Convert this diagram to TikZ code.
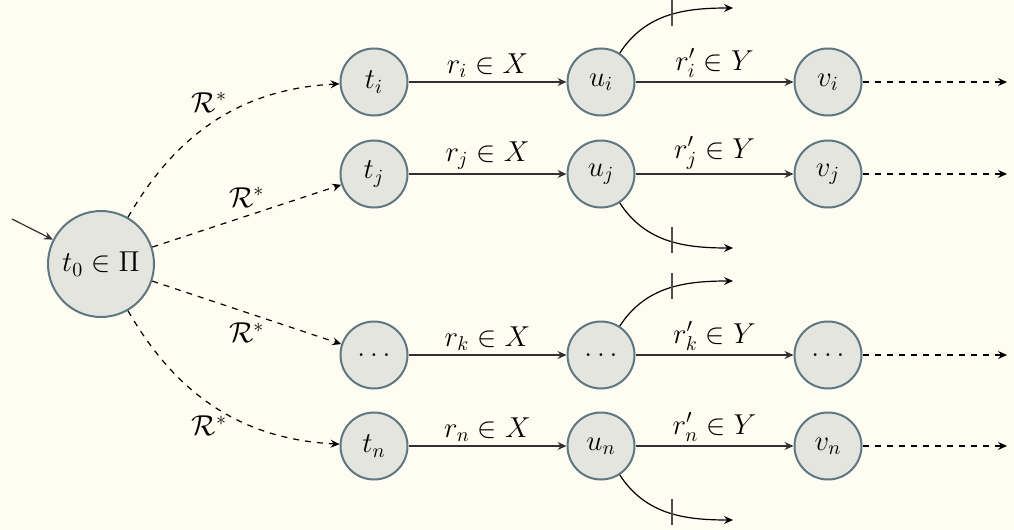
\documentclass[tikz,border=0pt]{standalone}
\usetikzlibrary{arrows.meta,calc}
\definecolor{bg}{HTML}{FFFDF2}
\definecolor{nodefill}{HTML}{E4E5DE}
\definecolor{nodeline}{HTML}{5E7782}
\definecolor{edgecol}{HTML}{303030}
\definecolor{tickcol}{HTML}{505050}
\begin{document}
\begin{tikzpicture}[x=0.5pt,y=-0.5pt,
  state/.style={circle, draw=nodeline, fill=nodefill, line width=1pt, minimum size=33.5pt, inner sep=0pt, font=\Large},
  startstate/.style={state, minimum size=53pt},
  trans/.style={-{Stealth[length=4.5pt,width=4pt,inset=1.6pt]}, line width=0.6pt, draw=edgecol},
  dtrans/.style={trans, dashed, draw=black},
  lbl/.style={inner sep=1pt, font=\Large},
  cutmark/.style={draw=tickcol, line width=0.8pt}]
\fill[bg] (0,0) rectangle (1014,530);
\useasboundingbox (0,0) rectangle (1014,530);

% nodes
\node[startstate] (t0) at (101,264) {$t_0\in\Pi$};
\node[state] (ti) at (374,82) {$t_i$};
\node[state] (ui) at (601,82) {$u_i$};
\node[state] (vi) at (828,82) {$v_i$};
\node[state] (tj) at (374,174) {$t_j$};
\node[state] (uj) at (601,174) {$u_j$};
\node[state] (vj) at (828,174) {$v_j$};
\node[state] (tk) at (374,355) {$\dots$};
\node[state] (uk) at (601,355) {$\dots$};
\node[state] (vk) at (828,355) {$\dots$};
\node[state] (tn) at (374,446) {$t_n$};
\node[state] (un) at (601,446) {$u_n$};
\node[state] (vn) at (828,446) {$v_n$};

% free ends
\coordinate (init) at (12,219);
\coordinate (oi) at (1007,82);
\coordinate (oj) at (1007,174);
\coordinate (ok) at (1007,355);
\coordinate (on) at (1007,446);
\coordinate (ei) at ($(ui)+(132,-74)$);
\coordinate (ej) at ($(uj)+(132,74)$);
\coordinate (ek) at ($(uk)+(132,-74)$);
\coordinate (en) at ($(un)+(132,74)$);

% initial
\draw[trans] (init) -- (t0);

% R* edges
\draw[dtrans] (t0) to[out=60, in=183, looseness=1.0] node[lbl, pos=0.47, above=5pt] {$\mathcal{R}^*$} (ti);
\draw[dtrans] (t0) -- node[lbl, midway, above=3pt] {$\mathcal{R}^*$} (tj);
\draw[dtrans] (t0) -- node[lbl, midway, below=4pt] {$\mathcal{R}^*$} (tk);
\draw[dtrans] (t0) to[out=-60, in=177, looseness=1.0] node[lbl, pos=0.47, below=5pt] {$\mathcal{R}^*$} (tn);

% X edges
\draw[trans] (ti) -- node[lbl, above=1pt] {$r_i\in X$} (ui);
\draw[trans] (tj) -- node[lbl, above=1pt] {$r_j\in X$} (uj);
\draw[trans] (tk) -- node[lbl, above=1pt] {$r_k\in X$} (uk);
\draw[trans] (tn) -- node[lbl, above=1pt] {$r_n\in X$} (un);

% Y edges
\draw[trans] (ui) -- node[lbl, above=1pt] {$r_i'\in Y$} (vi);
\draw[trans] (uj) -- node[lbl, above=1pt] {$r_j'\in Y$} (vj);
\draw[trans] (uk) -- node[lbl, above=1pt] {$r_k'\in Y$} (vk);
\draw[trans] (un) -- node[lbl, above=1pt] {$r_n'\in Y$} (vn);

% outgoing dashed
\draw[dtrans] (vi) -- (oi);
\draw[dtrans] (vj) -- (oj);
\draw[dtrans] (vk) -- (ok);
\draw[dtrans] (vn) -- (on);

% side branches
\draw[trans, draw=black] (ui.57) to[out=57,in=180] (ei);
\draw[trans, draw=black] (uj.-57) to[out=-57,in=180] (ej);
\draw[trans, draw=black] (uk.57) to[out=57,in=180] (ek);
\draw[trans, draw=black] (un.-57) to[out=-57,in=180] (en);

% cut marks
\draw[cutmark] ($(ui)+(71,-82)$) -- ++(0,26);
\draw[cutmark] ($(uj)+(71,53)$) -- ++(0,26);
\draw[cutmark] ($(uk)+(71,-82)$) -- ++(0,26);
\draw[cutmark] ($(un)+(71,53)$) -- ++(0,26);
\end{tikzpicture}
\end{document}
